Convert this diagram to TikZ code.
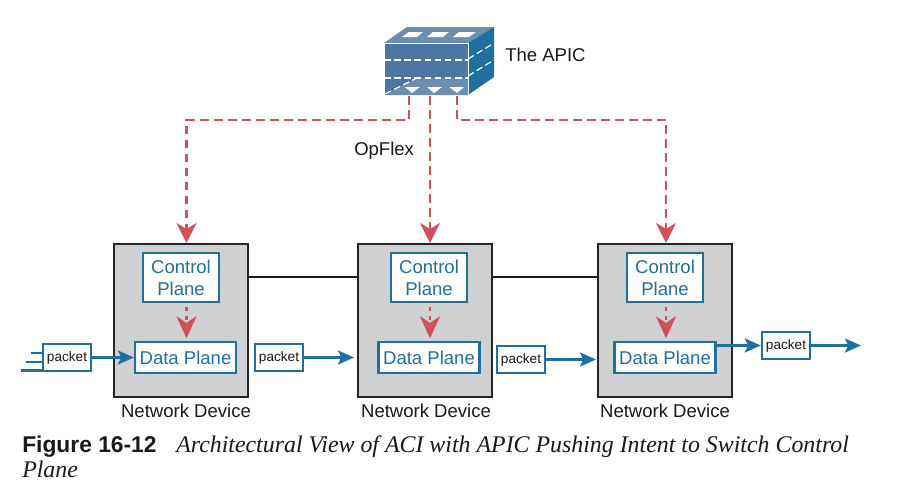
\documentclass[tikz,border=0pt]{standalone}
\usepackage{fontspec}
\setmainfont{Liberation Sans}
\newfontfamily\capfont{Liberation Serif}
\usetikzlibrary{arrows.meta, positioning, calc}

\definecolor{ciscoblue}{HTML}{1F6F9F}
\definecolor{opflexred}{HTML}{D2505A}
\definecolor{devgray}{HTML}{CFD0D2}
\definecolor{cubefront}{HTML}{4A77A3}
\definecolor{cubetop}{HTML}{6B8FB3}

\tikzset{
    device/.style={draw=black!85, line width=1.9pt, fill=devgray, minimum width=100.5pt, minimum height=114.75pt, inner sep=0pt},
    ctlbox/.style={draw=ciscoblue, line width=1.6pt, fill=white, text=ciscoblue, minimum width=57pt, minimum height=36.75pt, inner sep=0pt, align=center, font=\fontsize{13.9}{16.5}\selectfont},
    databox/.style={draw=ciscoblue, line width=1.6pt, fill=white, text=ciscoblue, minimum width=75.75pt, minimum height=23.25pt, inner sep=0pt, font=\fontsize{13.9}{16.5}\selectfont},
    pktbox/.style={draw=ciscoblue, line width=1.8pt, fill=white, text=black!90, minimum width=36pt, minimum height=20.25pt, inner sep=0pt, font=\fontsize{10.2}{12}\selectfont},
    label/.style={text=black!90, inner sep=0pt, font=\fontsize{13.9}{16.5}\selectfont},
    opflex/.style={draw=opflexred, line width=2pt, dash pattern=on 6.5pt off 4pt, -{Stealth[length=15pt, width=15pt, inset=4.5pt]}},
    push/.style={draw=opflexred, line width=2pt, dash pattern=on 3pt off 4pt, shorten <=3pt, shorten >=2pt, -{Stealth[length=16.5pt, width=15pt, inset=5pt]}},
    flow/.style={draw=ciscoblue, line width=1.8pt, -{Stealth[length=12pt, width=10.5pt, inset=2.5pt]}},
    stub/.style={draw=ciscoblue, line width=1.8pt},
    link/.style={draw=black!90, line width=1.8pt},
    dashwhite/.style={draw=white, line width=0.9pt, dash pattern=on 5pt off 2.6pt},
}

\begin{document}
\begin{tikzpicture}[x=0.75pt, y=-0.75pt]
    \path[use as bounding box, fill=white] (0,0) rectangle (898,493);

    % the APIC cube
    \fill[cubetop] (384,43) -- (407,27) -- (494,27) -- (468,43) -- cycle;
    \fill[ciscoblue] (468,43) -- (494,27) -- (494,77) -- (468,95) -- cycle;
    \node[fill=cubefront, draw=white, line width=0.6pt, minimum width=63pt, minimum height=39pt, inner sep=0pt] (apic) at (426,69) {};
    \fill[cubetop] (385,95) -- (417,78) -- (468,78) -- (468,95) -- cycle;
    \fill[white] (409,32) -- (423,32) -- (417,37) -- (402,37) -- cycle;
    \fill[white] (433,32) -- (449,32) -- (443,37) -- (427,37) -- cycle;
    \fill[white] (459,32) -- (476,32) -- (469,37) -- (453,37) -- cycle;
    \fill[white] (405,87) -- (420,87) -- (412,93) -- cycle;
    \fill[white] (427,87) -- (442,87) -- (434,93) -- cycle;
    \fill[white] (449,87) -- (464,87) -- (457,93) -- cycle;
    \draw[dashwhite] (384,60) -- (468,60);
    \draw[dashwhite] (384,78) -- (468,78);
    \draw[dashwhite] (468,59) -- (494,43);
    \draw[dashwhite] (468,76) -- (494,60);
    \draw[dashwhite] (385,94) -- (417,78);

    \node[label, anchor=west] (apiclabel) at (505,55) {The APIC};
    \node[label, anchor=west] (opflexlabel) at (354,151) {OpFlex};

    % network devices
    \node[device] (dev1) at (181,320.5) {};
    \node[device] (dev2) at (425,320.5) {};
    \node[device] (dev3) at (665,320.5) {};

    \draw[link] (dev1.east |- 0,277) -- (dev2.west |- 0,277);
    \draw[link] (dev2.east |- 0,277) -- (dev3.west |- 0,277);

    \node[ctlbox] (ctl1) at (181,277.5) {Control\\Plane};
    \node[ctlbox] (ctl2) at (429,277.5) {Control\\Plane};
    \node[ctlbox] (ctl3) at (665,277.5) {Control\\Plane};

    \node[databox] (data1) at (185.5,357.5) {Data Plane};
    \node[databox] (data2) at (429,357.5) {Data Plane};
    \node[databox] (data3) at (665,357.5) {Data Plane};

    \node[label] (name1) at (186,411) {Network Device};
    \node[label] (name2) at (426,411) {Network Device};
    \node[label] (name3) at (665,411) {Network Device};

    % OpFlex paths
    \coordinate (apicl) at (409,96);
    \coordinate (apicm) at (430,96);
    \coordinate (apicr) at (457,96);
    \coordinate (bus) at (430,120);
    \coordinate (tip1) at (186.5,243);
    \coordinate (tip2) at (430,243);
    \coordinate (tip3) at (666,243);
    \draw[opflex] (apicl) -- (apicl |- bus) -- (tip1 |- bus) -- (tip1);
    \draw[opflex] (apicm) -- (tip2);
    \draw[opflex] (apicr) -- (apicr |- bus) -- (tip3 |- bus) -- (tip3);

    \draw[push] (ctl1.south -| tip1) -- (data1.north -| tip1);
    \draw[push] (ctl2.south -| tip2) -- (data2.north -| tip2);
    \draw[push] (ctl3.south -| tip3) -- (data3.north -| tip3);

    % packets
    \node[pktbox] (pkt1) at (67,357.5) {packet};
    \node[pktbox] (pkt2) at (279,357.5) {packet};
    \node[pktbox] (pkt3) at (521,359.5) {packet};
    \node[pktbox] (pkt4) at (786,345.5) {packet};

    \coordinate (stub1) at (31,353);
    \coordinate (stub2) at (26,362);
    \coordinate (stub3) at (21,370.5);
    \draw[stub] (stub1) -- (stub1 -| pkt1.west);
    \draw[stub] (stub2) -- (stub2 -| pkt1.west);
    \draw[stub] (stub3) -- (stub3 -| pkt1.west);

    \coordinate (out2) at (354,357.5);
    \coordinate (out3) at (596,359.5);
    \coordinate (out4) at (861,345.5);
    \draw[flow] (pkt1) -- (data1);
    \draw[flow] (pkt2) -- (out2);
    \draw[flow] (pkt3) -- (out3);
    \draw[flow] (data3.east |- pkt4) -- (pkt4);
    \draw[flow] (pkt4) -- (out4);

    % caption
    \node[anchor=base west, inner sep=0pt, text=black!90, font=\fontsize{17.1}{18}\selectfont\bfseries] (figno) at (22,452) {Figure 16-12};
    \node[anchor=base west, inner sep=0pt, text=black!90, font=\fontsize{17.9}{18}\selectfont\capfont\itshape] (caption1) at (176,452) {Architectural View of ACI with APIC Pushing Intent to Switch Control};
    \node[anchor=base west, inner sep=0pt, text=black!90, font=\fontsize{17.9}{18}\selectfont\capfont\itshape] (caption2) at (22,477) {Plane};
\end{tikzpicture}
\end{document}
